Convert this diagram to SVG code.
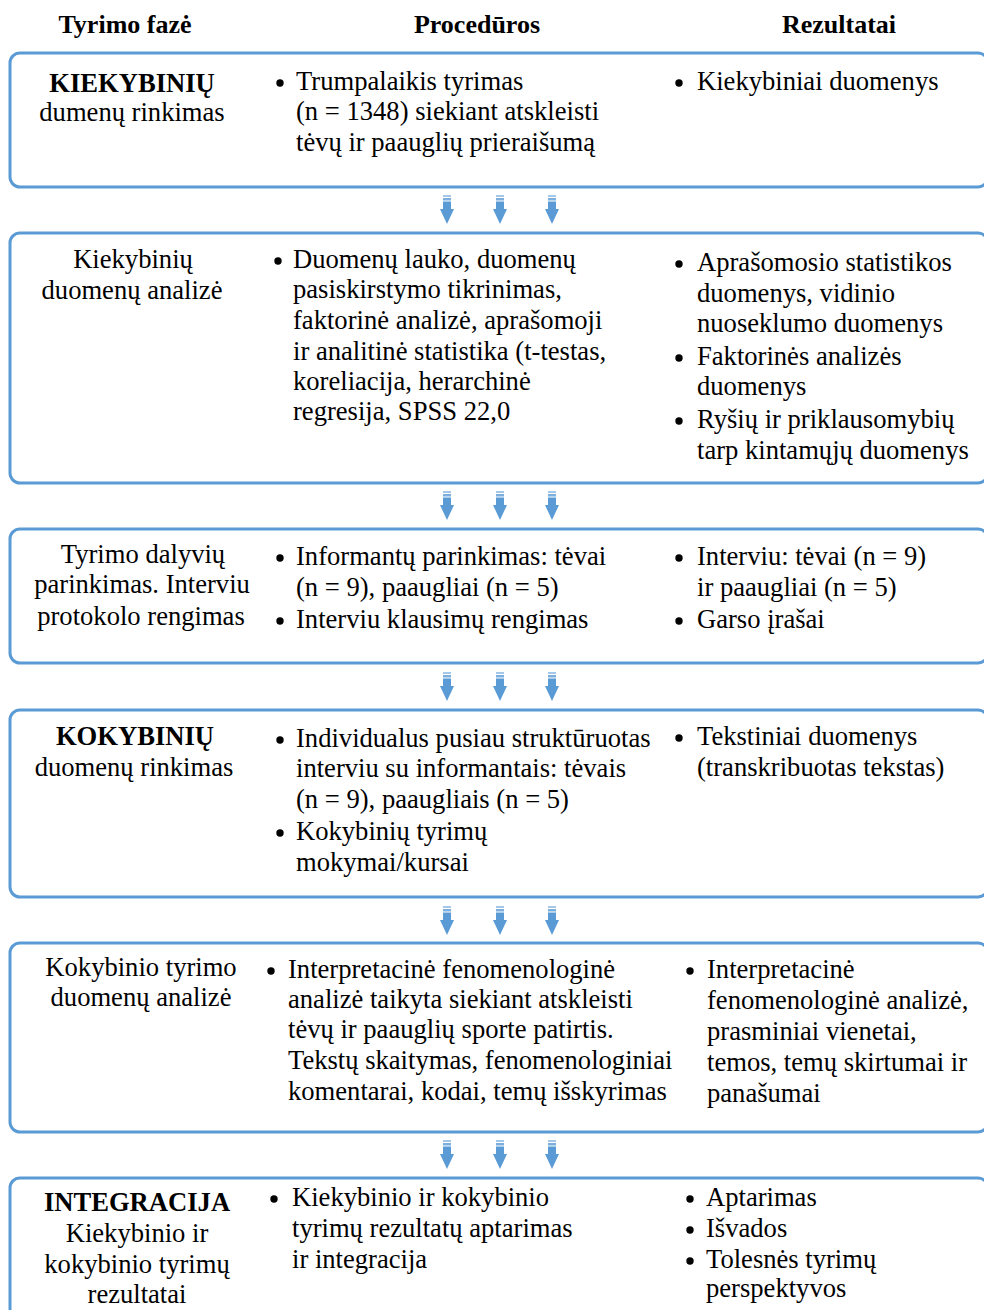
<svg xmlns="http://www.w3.org/2000/svg" xmlns:xlink="http://www.w3.org/1999/xlink" width="984" height="1310" viewBox="0 0 984 1310">
<style>
text{font-family:"Liberation Serif","Times New Roman",serif;font-size:26.6px;fill:#000}
.h{font-weight:bold;font-size:26px}
.b{font-weight:bold}
.c{text-anchor:middle}
.box{fill:#fff;stroke:#5b9bd5;stroke-width:3}
.dot{fill:#000}
</style>
<defs>
<g id="arr" fill="#5b9bd5">
<rect x="-4" y="0" width="8" height="2" opacity="0.55"/>
<rect x="-4" y="3" width="8" height="2.5" opacity="0.8"/>
<rect x="-4" y="6.5" width="8" height="8"/>
<polygon points="-7,14 7,14 0,29"/>
</g>
</defs>
<rect width="984" height="1310" fill="#fff"/>
<g id="headers">
<text class="h c" x="125" y="33">Tyrimo fazė</text>
<text class="h c" x="477" y="33">Procedūros</text>
<text class="h c" x="839" y="33">Rezultatai</text>
</g>
<g id="connectors">
<use xlink:href="#arr" x="447" y="195"/><use xlink:href="#arr" x="500" y="195"/><use xlink:href="#arr" x="552" y="195"/>
<use xlink:href="#arr" x="447" y="491"/><use xlink:href="#arr" x="500" y="491"/><use xlink:href="#arr" x="552" y="491"/>
<use xlink:href="#arr" x="447" y="672"/><use xlink:href="#arr" x="500" y="672"/><use xlink:href="#arr" x="552" y="672"/>
<use xlink:href="#arr" x="447" y="906"/><use xlink:href="#arr" x="500" y="906"/><use xlink:href="#arr" x="552" y="906"/>
<use xlink:href="#arr" x="447" y="1140"/><use xlink:href="#arr" x="500" y="1140"/><use xlink:href="#arr" x="552" y="1140"/>
</g>
<g id="node1">
<rect class="box" x="10" y="53" width="978" height="134" rx="10"/>
<text class="b c" x="132" y="92">KIEKYBINIŲ</text>
<text class="c" x="132" y="121">dumenų rinkimas</text>
<circle class="dot" cx="280" cy="83" r="3.7"/>
<text x="296" y="90">Trumpalaikis tyrimas</text>
<text x="296" y="120">(n = 1348) siekiant atskleisti</text>
<text x="296" y="151">tėvų ir paauglių prieraišumą</text>
<circle class="dot" cx="679" cy="83" r="3.7"/>
<text x="697" y="90">Kiekybiniai duomenys</text>
</g>
<g id="node2">
<rect class="box" x="10" y="233" width="978" height="250" rx="10"/>
<text class="c" x="133" y="268">Kiekybinių</text>
<text class="c" x="132" y="299">duomenų analizė</text>
<circle class="dot" cx="278" cy="261" r="3.7"/>
<text x="293" y="268">Duomenų lauko, duomenų</text>
<text x="293" y="298">pasiskirstymo tikrinimas,</text>
<text x="293" y="329">faktorinė analizė, aprašomoji</text>
<text x="293" y="360">ir analitinė statistika (t-testas,</text>
<text x="293" y="390">koreliacija, herarchinė</text>
<text x="293" y="420">regresija, SPSS 22,0</text>
<circle class="dot" cx="679" cy="264" r="3.7"/>
<text x="697" y="271">Aprašomosio statistikos</text>
<text x="697" y="302">duomenys, vidinio</text>
<text x="697" y="332">nuoseklumo duomenys</text>
<circle class="dot" cx="679" cy="358" r="3.7"/>
<text x="697" y="365">Faktorinės analizės</text>
<text x="697" y="395">duomenys</text>
<circle class="dot" cx="679" cy="421" r="3.7"/>
<text x="697" y="428">Ryšių ir priklausomybių</text>
<text x="697" y="459">tarp kintamųjų duomenys</text>
</g>
<g id="node3">
<rect class="box" x="10" y="529" width="978" height="134" rx="10"/>
<text class="c" x="143" y="563">Tyrimo dalyvių</text>
<text class="c" x="142" y="593">parinkimas. Interviu</text>
<text class="c" x="141" y="625">protokolo rengimas</text>
<circle class="dot" cx="280" cy="558" r="3.7"/>
<text x="296" y="565">Informantų parinkimas: tėvai</text>
<text x="296" y="596">(n = 9), paaugliai (n = 5)</text>
<circle class="dot" cx="280" cy="621" r="3.7"/>
<text x="296" y="628">Interviu klausimų rengimas</text>
<circle class="dot" cx="679" cy="558" r="3.7"/>
<text x="697" y="565">Interviu: tėvai (n = 9)</text>
<text x="697" y="596">ir paaugliai (n = 5)</text>
<circle class="dot" cx="679" cy="621" r="3.7"/>
<text x="697" y="628">Garso įrašai</text>
</g>
<g id="node4">
<rect class="box" x="10" y="710" width="978" height="187" rx="10"/>
<text class="b c" x="135" y="745">KOKYBINIŲ</text>
<text class="c" x="134" y="776">duomenų rinkimas</text>
<circle class="dot" cx="280" cy="740" r="3.7"/>
<text x="296" y="747">Individualus pusiau struktūruotas</text>
<text x="296" y="777">interviu su informantais: tėvais</text>
<text x="296" y="808">(n = 9), paaugliais (n = 5)</text>
<circle class="dot" cx="280" cy="833" r="3.7"/>
<text x="296" y="840">Kokybinių tyrimų</text>
<text x="296" y="871">mokymai/kursai</text>
<circle class="dot" cx="679" cy="738" r="3.7"/>
<text x="697" y="745">Tekstiniai duomenys</text>
<text x="697" y="776">(transkribuotas tekstas)</text>
</g>
<g id="node5">
<rect class="box" x="10" y="943" width="978" height="189" rx="10"/>
<text class="c" x="141" y="976">Kokybinio tyrimo</text>
<text class="c" x="141" y="1006">duomenų analizė</text>
<circle class="dot" cx="271" cy="971" r="3.7"/>
<text x="288" y="978">Interpretacinė fenomenologinė</text>
<text x="288" y="1008">analizė taikyta siekiant atskleisti</text>
<text x="288" y="1038">tėvų ir paauglių sporte patirtis.</text>
<text x="288" y="1069">Tekstų skaitymas, fenomenologiniai</text>
<text x="288" y="1100">komentarai, kodai, temų išskyrimas</text>
<circle class="dot" cx="690" cy="971" r="3.7"/>
<text x="707" y="978">Interpretacinė</text>
<text x="707" y="1009">fenomenologinė analizė,</text>
<text x="707" y="1040">prasminiai vienetai,</text>
<text x="707" y="1071">temos, temų skirtumai ir</text>
<text x="707" y="1102">panašumai</text>
</g>
<g id="node6">
<rect class="box" x="10" y="1178" width="978" height="150" rx="10"/>
<text class="b c" x="137" y="1211">INTEGRACIJA</text>
<text class="c" x="137" y="1242">Kiekybinio ir</text>
<text class="c" x="137" y="1273">kokybinio tyrimų</text>
<text class="c" x="137" y="1303">rezultatai</text>
<circle class="dot" cx="274" cy="1199" r="3.7"/>
<text x="292" y="1206">Kiekybinio ir kokybinio</text>
<text x="292" y="1237">tyrimų rezultatų aptarimas</text>
<text x="292" y="1268">ir integracija</text>
<circle class="dot" cx="690" cy="1199" r="3.7"/>
<text x="706" y="1206">Aptarimas</text>
<circle class="dot" cx="690" cy="1230" r="3.7"/>
<text x="706" y="1237">Išvados</text>
<circle class="dot" cx="690" cy="1261" r="3.7"/>
<text x="706" y="1268">Tolesnės tyrimų</text>
<text x="706" y="1297">perspektyvos</text>
</g>
</svg>
